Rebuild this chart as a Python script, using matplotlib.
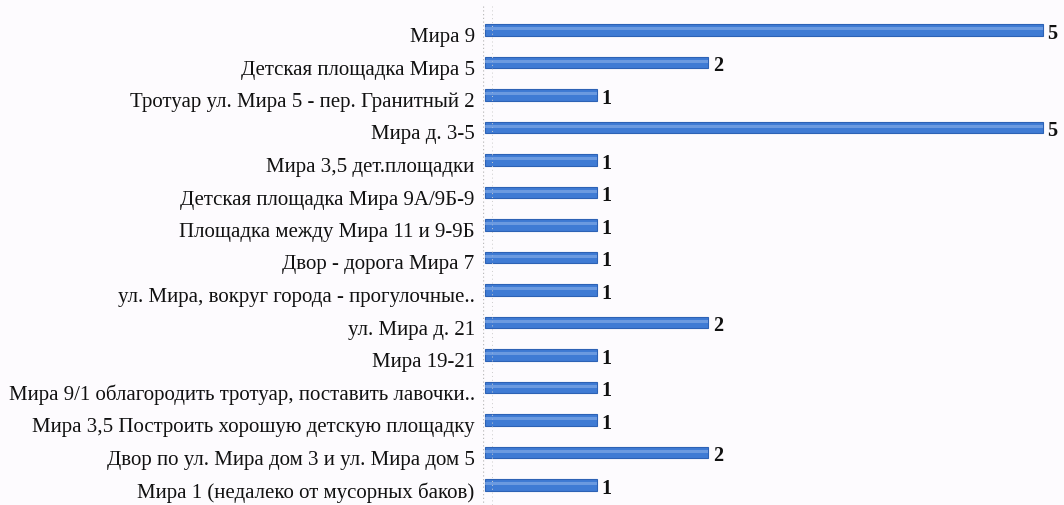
import numpy as np
import matplotlib.pyplot as plt
import matplotlib.transforms as mtransforms

categories = [
    "Мира 9",
    "Детская площадка Мира 5",
    "Тротуар ул. Мира 5 - пер. Гранитный 2",
    "Мира д. 3-5",
    "Мира 3,5 дет.площадки",
    "Детская площадка Мира 9А/9Б-9",
    "Площадка между Мира 11 и 9-9Б",
    "Двор - дорога Мира 7",
    "ул. Мира, вокруг города - прогулочные..",
    "ул. Мира д. 21",
    "Мира 19-21",
    "Мира 9/1 облагородить тротуар, поставить лавочки..",
    "Мира 3,5 Построить хорошую детскую площадку",
    "Двор по ул. Мира дом 3 и ул. Мира дом 5",
    "Мира 1 (недалеко от мусорных баков)",
]
values = [5, 2, 1, 5, 1, 1, 1, 1, 1, 2, 1, 1, 1, 2, 1]

plt.rcParams['font.family'] = ['Liberation Serif', 'DejaVu Serif']

fig = plt.figure(figsize=(10.64, 5.06), dpi=100, facecolor='#fdfbfe')
ax = fig.add_axes([483 / 1064, 0, (1058 - 483) / 1064, 1])
ax.set_facecolor('#fdfbfe')

y = np.arange(len(categories))
# main bar plus a lighter highlight band to mimic the cylinder look
ax.barh(y, values, height=0.34, color='#3f7bd4', edgecolor='#2d62b5', linewidth=0.8, zorder=2)
ax.barh(y - 0.04, values, height=0.1, color='#7fa8e6', linewidth=0, zorder=3, alpha=0.7)

for yi, v in zip(y, values):
    ax.text(v + 0.04, yi + 0.08, str(v), va='center', ha='left', fontsize=14.5, fontweight='bold', color='#111111')

ax.set_yticks(y)
ax.set_yticklabels(categories, fontsize=15, color='#111111')
ax.tick_params(axis='y', length=0, pad=6)
ax.set_xticks([])
# category labels sit a few pixels below the bar centres
shift = mtransforms.ScaledTranslation(0, -4 / 100, fig.dpi_scale_trans)
for lbl in ax.get_yticklabels():
    lbl.set_transform(lbl.get_transform() + shift)

px = 32.5
ax.set_ylim((506 - 31) / px, -31 / px)
ax.set_xlim(-0.02, 5 * (1058 - 483) / (1045 - 485))

for s in ax.spines.values():
    s.set_visible(False)
ax.vlines(-0.02, -0.75, 14.6, colors='#bbbbbb', linestyles=(0, (1, 2)), linewidth=0.9)
ax.vlines(0.06, -0.75, 14.6, colors='#cccccc', linestyles=(0, (1, 3)), linewidth=0.7)

fig.savefig('out.png', dpi=100, facecolor=fig.get_facecolor())
